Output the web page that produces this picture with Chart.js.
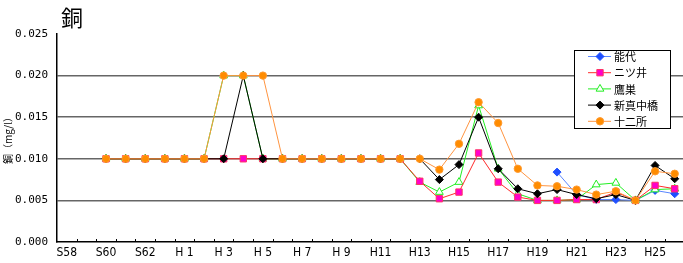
<!DOCTYPE html>
<html>
<head>
<meta charset="utf-8">
<script src="https://cdn.jsdelivr.net/npm/chart.js@4"></script>
<style>
  html, body { margin: 0; padding: 0; background: #fff; overflow: hidden; }
  #wrap { position: relative; width: 690px; height: 263px; }
  #title {
    position: absolute; left: 61px; top: 5px;
    font: 22px "Noto Sans CJK JP", sans-serif; line-height: 22px; color: #000;
  }
</style>
</head>
<body>
<div id="wrap">
  <canvas id="myChart" width="690" height="263"></canvas>
  <div id="title">銅</div>
</div>
<script>
// 年度 (S58 - H26)
var years = ['S58', 'S59', 'S60', 'S61', 'S62', 'S63',
    'H 1', 'H 2', 'H 3', 'H 4', 'H 5', 'H 6', 'H 7', 'H 8', 'H 9',
    'H10', 'H11', 'H12', 'H13', 'H14', 'H15', 'H16', 'H17', 'H18',
    'H19', 'H20', 'H21', 'H22', 'H23', 'H24', 'H25', 'H26'];

var yTicks = [0, 0.005, 0.010, 0.015, 0.020, 0.025];

// 銅 (mg/l)
var noshiro = [null, null, null, null, null, null,
    null, null, null, null, null, null, null, null, null,
    null, null, null, null, null, null, null, null, null,
    null, 0.0084, 0.0057, 0.0051, 0.0051, 0.005, 0.0062, 0.0058];
var futatsui = [null, null, 0.010, 0.010, 0.010, 0.010,
    0.010, 0.010, 0.010, 0.010, 0.010, 0.010, 0.010, 0.010, 0.010,
    0.010, 0.010, 0.010, 0.0073, 0.0052, 0.0060, 0.0107, 0.0072, 0.0054,
    0.005, 0.005, 0.0051, 0.0051, 0.0060, 0.005, 0.0068, 0.0064];
var takanosu = [null, null, 0.010, 0.010, 0.010, 0.010,
    0.010, 0.010, 0.020, 0.020, 0.010, 0.010, 0.010, 0.010, 0.010,
    0.010, 0.010, 0.010, 0.0072, 0.0060, 0.0072, 0.0164, 0.0088, 0.0058,
    0.005, 0.005, 0.0051, 0.0069, 0.0071, 0.005, 0.0063, 0.0064];
var shinmanaka = [null, null, 0.010, 0.010, 0.010, 0.010,
    0.010, 0.010, 0.010, 0.020, 0.010, 0.010, 0.010, 0.010, 0.010,
    0.010, 0.010, 0.010, 0.010, 0.0075, 0.0093, 0.0150, 0.0088, 0.0064,
    0.0058, 0.0063, 0.0057, 0.0052, 0.0057, 0.005, 0.0092, 0.0076];
var juunisho = [null, null, 0.010, 0.010, 0.010, 0.010,
    0.010, 0.010, 0.020, 0.020, 0.020, 0.010, 0.010, 0.010, 0.010,
    0.010, 0.010, 0.010, 0.010, 0.0087, 0.0118, 0.0168, 0.0143, 0.0088,
    0.0068, 0.0067, 0.0063, 0.0057, 0.0061, 0.005, 0.0085, 0.0082];

var FONT = '"Noto Sans CJK JP", "DejaVu Sans", sans-serif';
var NUMFONT = '"DejaVu Sans Mono", "Liberation Mono", monospace';
var NARROW = '"Liberation Sans Narrow", "DejaVu Sans Condensed", "Noto Sans CJK JP", sans-serif';

function series(label, data, line, fill, border, style, r, order) {
    return {
        label: label,
        data: data,
        borderColor: line,
        borderWidth: 1,
        pointStyle: style,
        pointRadius: r,
        pointBackgroundColor: fill,
        pointBorderColor: border,
        pointBorderWidth: 1,
        tension: 0,
        spanGaps: false,
        order: order
    };
}

var datasets = [
    series('能代', noshiro, '#5a86ff', '#1f4fff', '#1f4fff', 'rectRot', 4, 5),
    series('ニツ井', futatsui, '#ff2a2a', '#ff00cc', '#ff3366', 'rect', 4.5, 3),
    series('鷹巣', takanosu, '#22ee22', '#ffffff', '#22ee22', 'triangle', 4.5, 4),
    series('新真中橋', shinmanaka, '#000000', '#000000', '#000000', 'rectRot', 4, 2),
    series('十二所', juunisho, '#ff9440', '#ff8c00', '#ff9a30', 'circle', 3.7, 1)
];

// 凡例（グラフ内の右上）
var boxLegend = {
    id: 'boxLegend',
    afterDraw: function(chart) {
        var ctx = chart.ctx;
        var x0 = 574.5, y0 = 50.5, w = 96, h = 78;
        ctx.save();
        ctx.fillStyle = '#fff';
        ctx.fillRect(x0, y0, w, h);
        ctx.strokeStyle = '#000';
        ctx.lineWidth = 1;
        ctx.strokeRect(x0, y0, w, h);
        chart.data.datasets.forEach(function(ds, i) {
            var y = 56.5 + i * 16.2;
            ctx.strokeStyle = ds.borderColor;
            ctx.lineWidth = 1;
            ctx.beginPath();
            ctx.moveTo(588, y);
            ctx.lineTo(611, y);
            ctx.stroke();
            ctx.fillStyle = ds.pointBackgroundColor;
            ctx.strokeStyle = ds.pointBorderColor;
            Chart.helpers.drawPoint(ctx, {
                pointStyle: ds.pointStyle,
                radius: ds.pointRadius,
                rotation: 0,
                borderWidth: 1
            }, 600, y);
            ctx.fillStyle = '#000';
            ctx.font = '11px ' + FONT;
            ctx.textBaseline = 'middle';
            ctx.textAlign = 'left';
            ctx.fillText(ds.label, 614, y + 0.5);
        });
        ctx.restore();
    }
};

// x軸の目盛（内向き）
var innerTicks = {
    id: 'innerTicks',
    afterDraw: function(chart) {
        var xs = chart.scales.x;
        var step = xs.getPixelForValue(1) - xs.getPixelForValue(0);
        var ctx = chart.ctx;
        ctx.save();
        ctx.strokeStyle = '#000';
        ctx.lineWidth = 1;
        ctx.beginPath();
        for (var i = 1; i <= years.length; i++) {
            var x = Math.round(xs.getPixelForValue(i) - step / 2) + 0.5;
            ctx.moveTo(x, xs.top);
            ctx.lineTo(x, xs.top - 3);
        }
        ctx.stroke();
        ctx.restore();
    }
};

function createChart() {
    var ctx = document.getElementById('myChart').getContext('2d');
    new Chart(ctx, {
        type: 'line',
        data: { labels: years, datasets: datasets },
        plugins: [boxLegend, innerTicks],
        options: {
            responsive: false,
            animation: false,
            layout: { padding: { top: 34, right: 4, bottom: 0, left: 0 } },
            plugins: {
                legend: { display: false },
                tooltip: { enabled: false }
            },
            scales: {
                x: {
                    offset: true,
                    grid: { display: false, offset: true, drawTicks: false },
                    border: { display: true, color: '#000', width: 1.5 },
                    ticks: {
                        autoSkip: false,
                        maxRotation: 0,
                        padding: 4,
                        color: '#000',
                        font: { family: NARROW, size: 12 },
                        callback: function(v, i) {
                            return i % 2 === 0 ? years[i] : '';
                        }
                    },
                    afterFit: function(s) { s.height = 21; }
                },
                y: {
                    min: yTicks[0],
                    max: yTicks[yTicks.length - 1],
                    afterBuildTicks: function(s) {
                        s.ticks = yTicks.map(function(v) { return { value: v }; });
                    },
                    grid: {
                        drawTicks: false,
                        lineWidth: 1.5,
                        color: function(c) {
                            return (c.index > 0 && c.index < yTicks.length - 1) ? '#666' : 'rgba(0,0,0,0)';
                        }
                    },
                    border: { display: true, color: '#000', width: 1.5 },
                    ticks: {
                        padding: 9,
                        color: '#000',
                        font: { family: NUMFONT, size: 11 },
                        callback: function(v) { return v.toFixed(3); }
                    },
                    title: {
                        display: true,
                        text: '銅（mg/l）',
                        color: '#000',
                        font: { family: FONT, size: 10 },
                        padding: { top: 2, bottom: 0 }
                    },
                    afterFit: function(s) { s.width = 57; }
                }
            }
        }
    });
}

document.addEventListener("DOMContentLoaded", function() {
    createChart();
});
</script>
</body>
</html>
